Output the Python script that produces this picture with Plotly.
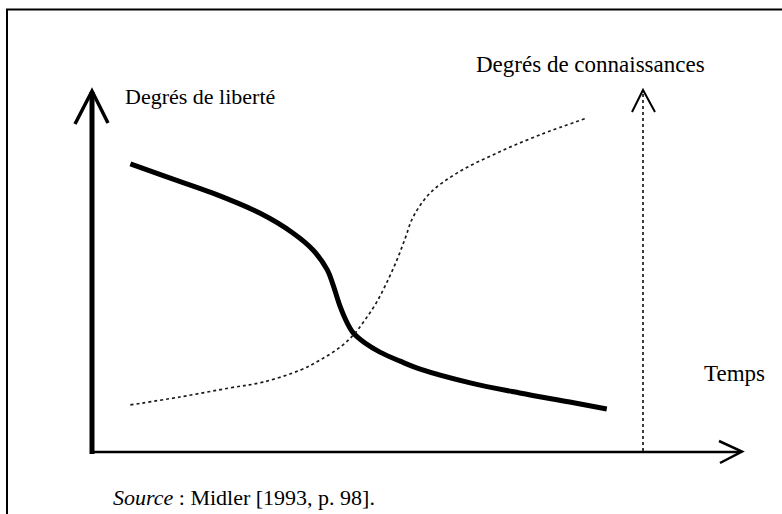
import plotly.graph_objects as go

# ---- data (time units 0..100, degree units 0..100) ----
liberte_t = [5.9, 11.5, 18.6, 25.8, 30.9, 34.0, 36.2, 37.1, 38.2, 39.2, 40.2, 42.0, 44.3, 47.4, 50.5, 58.2, 65.8, 73.5, 79.2]
liberte_v = [79.6, 76.0, 71.5, 66.0, 60.5, 55.8, 50.3, 46.1, 40.1, 35.9, 32.9, 30.1, 27.6, 25.1, 22.9, 19.1, 16.3, 13.8, 11.9]

connais_t = [5.9, 13.5, 21.2, 26.3, 32.0, 35.1, 38.2, 40.2, 42.0, 43.8, 45.4, 46.9, 48.2, 49.4, 52.0, 56.2, 62.3, 68.9, 76.2]
connais_v = [13.0, 15.2, 17.7, 19.3, 22.6, 25.4, 29.0, 32.3, 36.5, 41.4, 47.0, 53.0, 59.1, 64.9, 71.5, 77.1, 82.6, 87.6, 92.3]

label_y = "Degrés de liberté"
label_y2 = "Degrés de connaissances"
label_x = "Temps"
source_txt = "<i>Source</i> : Midler [1993, p. 98]."

# ---- layout constants (pixel geometry) ----
W, H = 782, 514
OX, OY = 92, 452          # origin pixel
XT, YT = 742, 90          # axis tip pixels
sx = (XT - OX) / 100.0
sy = (OY - YT) / 100.0


def d(px, py):
    return ((px - OX) / sx, (OY - py) / sy)


xr = [d(0, 0)[0], d(W, 0)[0]]
yr = [d(0, H)[1], d(0, 0)[1]]

fig = go.Figure()
fig.add_trace(go.Scatter(x=liberte_t, y=liberte_v, mode="lines",
                         line=dict(color="black", width=5, shape="spline", smoothing=1.0),
                         showlegend=False, hoverinfo="skip"))
fig.add_trace(go.Scatter(x=connais_t, y=connais_v, mode="lines",
                         line=dict(color="#1a1a1a", width=1.7, dash="dot", shape="spline", smoothing=1.0),
                         showlegend=False, hoverinfo="skip"))

shapes = []


def seg(p1, p2, w, dash=None, color="black"):
    a, b = d(*p1), d(*p2)
    ln = dict(color=color, width=w)
    if dash:
        ln["dash"] = dash
    shapes.append(dict(type="line", xref="x", yref="y", x0=a[0], y0=a[1], x1=b[0], y1=b[1], line=ln))


def poly(pts, w, color="black"):
    dd = [d(*p) for p in pts]
    path = "M " + " L ".join(f"{x:.3f},{y:.3f}" for x, y in dd)
    shapes.append(dict(type="path", xref="x", yref="y", path=path, line=dict(color=color, width=w)))


# frame
poly([(7, 520), (7, 9.5), (790, 9.5)], 2)
# left vertical axis
seg((92, 454), (92, 92), 5)
poly([(75, 124), (92, 91), (108, 123)], 3.5)
# horizontal axis
seg((90, 452), (740, 452), 2.5)
poly([(719, 441), (742, 451.5), (720, 463)], 2.5)
# knowledge axis (dotted)
seg((643, 451), (643, 94), 1.7, dash="dot", color="#1a1a1a")
poly([(632, 112), (643, 90), (655, 112)], 2)

FONT = "Liberation Serif, Times New Roman, serif"
ann = []


def txt(s, px, py, size=22.5, anchor="left"):
    x, y = d(px, py)
    ann.append(dict(text=s, x=x, y=y, xref="x", yref="y", showarrow=False,
                    xanchor=anchor, yanchor="middle", font=dict(family=FONT, size=size, color="black")))


txt(label_y, 123, 96, size=22)
txt(label_y2, 474, 64, size=23)
txt(label_x, 702, 373, size=23)
txt(source_txt, 111, 497, size=22)

fig.update_layout(
    width=W, height=H, margin=dict(l=0, r=0, t=0, b=0),
    paper_bgcolor="white", plot_bgcolor="white",
    xaxis=dict(range=xr, visible=False, fixedrange=True),
    yaxis=dict(range=yr, visible=False, fixedrange=True),
    shapes=shapes, annotations=ann, showlegend=False,
)

fig.write_html("out.html", config={"displayModeBar": False},
               post_script="document.body.style.margin='0';document.body.style.padding='0';document.body.style.overflow='hidden';")
